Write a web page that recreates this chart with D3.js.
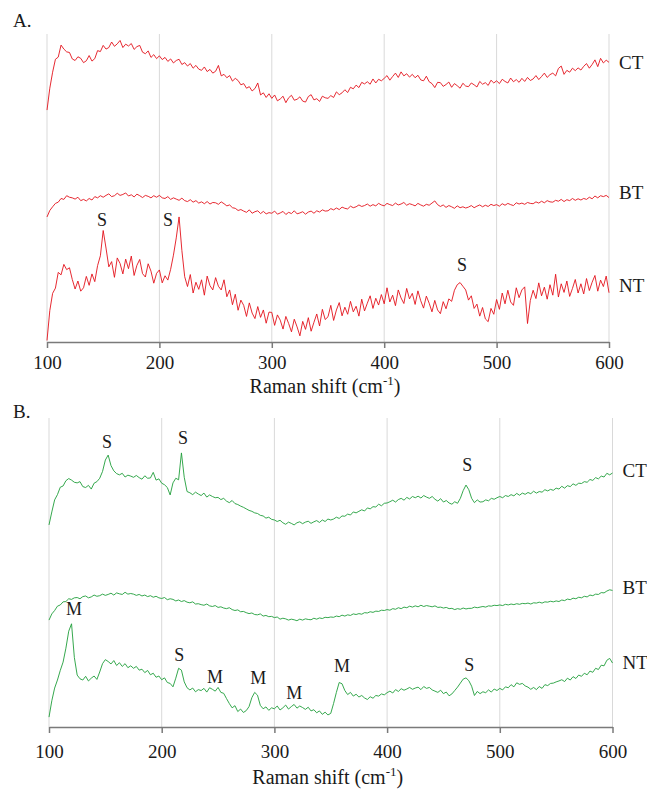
<!DOCTYPE html>
<html><head><meta charset="utf-8">
<script src="https://cdn.jsdelivr.net/npm/d3@7/dist/d3.min.js"></script>
<style>
body{margin:0;background:#fff}
text{font-family:"Liberation Serif","Times New Roman",serif;fill:#1a1a1a}
</style>
</head><body>
<svg id="chart" width="647" height="790"></svg>
<script>
// ---------- DATA ----------
const ramanShift = d3.range(100, 600.001, 2.5); // cm-1 grid, 201 points
const xTicks = [100, 200, 300, 400, 500, 600];
const seriesNames = ["CT", "BT", "NT"];

// Panel A (intensity, arbitrary units)
const aCT = [75.3,82.4,87.6,91.8,92.5,96.4,95.1,94.2,94.0,91.9,
91.4,92.6,92.1,90.7,91.3,93.0,91.2,92.0,94.6,94.3,
96.3,95.1,95.6,97.4,96.0,96.8,97.9,95.6,96.7,96.1,
96.9,95.0,95.9,96.3,94.1,93.6,94.5,92.4,93.3,92.0,
92.9,91.7,92.4,91.1,91.9,90.6,91.4,91.8,90.1,90.7,
89.6,90.4,88.9,89.8,88.6,88.2,89.3,87.8,88.5,87.3,
87.9,89.8,86.4,86.9,85.8,86.5,84.7,85.6,84.9,83.5,
83.9,82.4,82.9,81.5,82.3,84.1,80.2,80.9,79.4,80.6,
79.1,80.2,78.3,78.9,79.8,77.7,79.3,80.1,78.5,78.8,
79.6,78.2,77.9,79.7,80.3,78.6,79.0,78.1,79.8,79.3,
79.1,80.0,79.4,81.2,80.3,80.9,81.9,81.0,82.7,82.2,
83.4,82.6,84.3,83.8,84.5,83.7,85.4,84.1,85.3,84.8,
85.6,86.5,85.0,86.2,87.3,85.9,87.7,86.4,87.1,86.0,
86.9,85.8,86.6,85.1,84.8,86.3,84.5,83.9,82.6,84.3,
84.2,83.0,83.6,84.4,82.7,83.9,83.2,82.4,84.0,83.1,
82.9,84.1,83.5,82.8,84.6,83.7,84.2,83.3,85.0,84.1,
84.8,83.9,85.3,84.6,84.1,85.7,84.5,85.2,84.3,85.6,
84.6,85.9,84.9,85.4,86.5,85.2,86.2,87.3,85.9,86.8,
87.3,86.4,88.8,89.6,86.9,88.2,87.6,88.9,88.1,89.0,
88.3,89.5,90.4,88.9,90.1,91.6,89.4,92.1,90.6,91.5,
90.8];
const aBT = [40.6,42.7,43.9,45.0,45.4,46.6,46.3,47.5,47.0,46.8,
46.4,47.0,45.9,46.3,45.8,46.6,46.1,47.2,46.8,47.5,
47.0,47.6,48.1,47.2,47.5,48.3,47.6,47.9,48.4,47.4,
47.8,47.1,48.0,47.5,46.9,47.6,47.3,46.8,47.5,47.0,
47.6,46.8,46.6,47.2,46.3,46.8,46.4,46.0,46.7,45.9,
45.6,46.2,45.4,45.9,45.1,45.5,44.9,45.6,44.8,45.3,
45.2,44.7,45.5,44.9,44.2,44.5,43.6,43.4,42.7,43.0,
42.5,42.1,42.9,41.8,42.3,42.6,41.7,42.4,41.6,42.0,
41.8,42.5,41.5,41.9,42.4,41.4,42.1,41.7,42.6,41.6,
41.9,42.3,41.5,42.2,42.5,41.8,42.6,42.2,42.9,42.5,
42.6,43.3,42.9,43.5,43.0,43.8,43.4,43.2,44.1,43.6,
43.9,44.5,44.0,44.3,44.8,44.1,44.6,44.2,45.0,44.5,
44.2,45.0,44.6,44.3,45.1,44.5,44.8,45.3,44.4,44.9,
44.6,44.2,45.0,44.5,44.1,44.7,44.4,45.1,45.8,44.6,
44.0,44.5,43.7,44.3,43.9,43.4,44.2,43.6,43.9,43.5,
43.8,44.3,43.6,44.1,44.5,43.9,44.4,44.0,44.7,44.3,
44.6,44.1,44.9,44.4,45.0,44.6,44.3,45.2,44.8,45.1,
44.7,45.3,45.0,44.9,45.5,45.1,45.7,45.2,45.9,45.5,
45.4,46.0,45.7,46.3,45.6,46.2,45.9,46.6,46.0,46.5,
46.1,46.6,46.3,47.0,46.5,47.4,46.8,47.5,47.2,47.6,
46.9];
const aNT = [0.5,10.2,15.8,17.5,22.6,21.8,25.2,23.5,24.1,20.3,
17.2,19.8,16.5,17.6,21.3,18.4,22.1,19.6,24.8,28.0,
36.2,30.5,24.4,26.1,21.0,27.3,25.5,22.1,26.9,23.8,
27.9,21.6,24.9,26.8,22.2,21.1,25.4,23.0,19.1,22.3,
23.4,19.2,21.5,20.1,23.6,28.2,33.8,40.6,29.7,21.2,
18.0,21.9,15.9,19.4,17.1,20.2,15.2,21.4,18.3,16.9,
20.9,18.1,16.9,20.2,14.7,16.9,12.1,15.5,10.3,13.6,
11.9,8.3,12.7,9.4,7.6,11.5,8.0,10.4,6.1,9.7,
9.6,5.4,8.8,7.1,4.2,8.3,6.0,3.3,7.4,4.9,
2.0,6.7,4.1,7.9,3.5,6.4,9.1,5.2,10.6,7.3,
8.2,11.9,7.0,10.4,12.8,8.5,11.3,9.0,13.2,9.8,
11.6,8.4,13.9,10.1,12.6,15.0,10.9,14.2,12.0,15.4,
12.4,17.6,13.0,15.2,11.8,16.9,14.3,12.5,17.4,14.0,
15.8,12.2,16.6,13.4,11.0,14.9,12.6,9.8,13.5,10.4,
9.2,13.1,10.8,14.0,13.2,16.8,18.6,19.3,18.1,16.9,
13.6,15.0,10.9,12.3,8.4,11.2,7.5,6.6,10.9,9.0,
13.8,10.6,15.9,12.4,16.8,13.0,11.9,17.6,14.4,16.9,
17.9,6.0,13.5,16.8,14.1,19.2,15.0,17.8,13.9,18.6,
15.2,22.0,14.6,18.9,16.1,19.8,14.8,17.4,20.3,15.9,
18.9,15.6,20.6,16.7,19.4,21.6,16.5,20.1,18.0,21.4,
16.0];

// Panel B (intensity, arbitrary units)
const bCT = [65.4,69.6,73.5,75.2,77.6,78.0,79.7,80.4,79.9,79.2,
79.0,79.4,77.8,77.5,78.2,77.0,78.9,79.4,80.5,82.7,
86.4,88.0,84.6,82.9,82.0,81.6,82.1,80.9,81.5,81.2,
80.8,81.4,80.7,80.2,81.3,80.5,80.6,82.4,79.9,80.3,
78.9,78.4,77.5,75.1,79.0,80.5,80.0,88.7,80.8,76.2,
75.8,75.2,76.0,75.4,74.9,75.7,74.4,75.1,74.6,74.2,
74.3,73.6,74.0,73.1,72.6,73.3,72.3,72.0,71.5,71.1,
70.6,70.1,69.8,69.3,69.1,68.5,68.3,67.6,67.9,67.2,
67.0,66.5,66.9,66.1,65.6,66.3,65.9,65.4,66.1,66.4,
65.8,66.3,66.6,65.9,66.4,66.8,66.2,67.0,66.5,67.3,
67.0,67.3,67.9,67.5,68.3,68.2,68.9,68.6,69.6,69.3,
69.8,70.3,69.9,70.9,70.6,71.3,71.2,72.1,71.6,72.4,
72.5,72.9,73.4,72.8,73.6,74.0,73.4,74.3,73.8,74.6,
74.2,74.7,74.1,74.9,74.4,74.0,74.6,73.7,73.1,73.9,
72.8,73.3,72.5,72.1,72.9,72.4,74.0,76.5,78.3,76.8,
74.0,72.6,73.5,72.8,72.9,73.5,73.2,74.0,73.7,74.2,
74.6,74.2,74.9,74.6,75.2,74.8,75.6,75.0,75.7,75.3,
75.9,75.5,76.3,75.7,76.2,76.0,76.8,76.4,76.9,76.6,
77.3,77.0,77.9,77.3,78.1,77.8,78.7,78.2,78.9,78.8,
79.4,79.2,80.1,79.8,80.7,80.3,81.2,80.9,82.1,81.6,
82.2];
const bBT = [34.6,36.6,37.7,39.1,39.5,40.5,40.6,41.5,41.3,41.8,
41.9,41.5,42.2,42.4,41.8,42.1,42.7,42.3,42.5,43.0,
42.6,42.9,43.3,42.7,43.4,43.1,42.9,43.6,43.0,43.2,
43.0,42.6,42.9,42.4,42.7,42.2,42.5,42.0,42.3,41.8,
41.6,41.9,41.2,41.5,41.3,40.8,41.1,40.6,40.9,40.4,
40.2,40.5,39.8,39.9,39.6,39.4,39.8,39.2,39.0,39.3,
38.7,38.9,38.5,38.3,38.6,38.0,37.7,37.9,37.3,37.4,
37.0,36.7,36.9,36.4,36.3,36.6,35.9,36.1,35.7,35.8,
35.4,35.6,34.9,35.2,35.0,34.6,34.9,34.7,34.4,34.9,
34.6,35.0,34.8,34.7,35.2,34.9,35.3,35.1,35.5,35.4,
35.6,35.5,35.9,35.7,36.2,35.9,36.3,36.1,36.6,36.4,
36.7,36.5,37.0,36.9,37.3,37.1,37.5,37.4,37.8,37.7,
38.0,37.8,38.3,38.1,38.6,38.3,38.8,38.6,39.1,38.8,
39.2,38.9,39.4,39.0,39.3,39.1,38.9,39.2,38.7,38.8,
38.5,38.7,38.3,38.4,38.0,38.3,38.1,38.5,38.2,38.4,
38.4,38.8,38.6,38.8,39.0,38.8,39.2,39.1,39.4,39.3,
39.5,39.3,39.7,39.5,39.8,39.6,39.9,39.7,40.0,39.9,
40.1,39.8,40.2,40.1,40.4,40.1,40.5,40.4,40.7,40.5,
40.8,40.6,41.1,40.9,41.4,41.2,41.7,41.5,42.0,41.8,
42.3,42.1,42.7,42.5,43.0,42.9,43.5,43.4,44.0,44.4,
44.2];
const bNT = [3.2,8.5,12.6,15.2,18.3,21.0,25.5,31.0,33.4,22.5,
16.8,15.6,15.2,16.4,14.9,15.8,16.5,15.4,17.8,20.5,
21.8,21.2,20.4,21.5,19.9,20.8,19.6,20.5,19.2,19.8,
19.0,19.6,18.4,18.7,17.6,18.3,16.9,17.4,16.1,16.5,
15.3,15.9,14.4,14.1,13.0,15.8,19.0,18.4,14.6,12.7,
12.0,12.6,11.4,12.1,11.8,12.5,11.3,12.7,12.2,11.6,
12.8,11.2,10.9,9.2,7.6,6.2,6.9,5.0,5.8,4.7,
5.3,6.6,9.5,11.2,10.3,7.0,5.9,6.5,5.4,6.2,
5.9,6.8,5.5,6.2,7.1,5.8,6.6,7.3,6.1,6.8,
6.3,5.7,6.4,5.2,5.6,4.6,5.2,4.1,4.8,3.9,
4.4,7.6,11.2,14.4,14.0,11.8,10.5,11.2,10.0,10.6,
9.7,10.2,9.4,8.9,9.8,9.3,10.2,10.0,10.7,10.4,
11.1,11.6,11.0,12.1,11.5,12.4,11.9,12.3,12.8,12.2,
12.6,12.9,12.1,13.1,12.5,12.8,12.0,11.6,11.2,11.9,
10.8,11.3,10.1,10.7,11.8,12.9,14.2,15.5,15.9,15.0,
13.2,10.2,11.5,10.8,11.4,11.1,12.0,11.3,12.3,11.8,
12.5,12.0,13.0,12.7,13.7,13.0,14.3,13.8,14.1,13.3,
12.9,12.2,12.8,12.1,13.1,12.5,13.7,13.4,14.1,14.2,
14.6,14.9,15.3,14.7,15.8,15.2,16.3,15.7,16.8,16.4,
17.4,16.9,18.1,17.7,19.0,18.6,20.0,19.8,21.6,22.2,
20.7];

// label anchors in data units (Raman shift, intensity)
const aSeriesLabelY = [88.6, 46.4, 16.2];
const bSeriesLabelY = [80.9, 43.0, 18.8];
const aPeakLabels = ["S", "S", "S"];
const aPeakX = [149, 207.7, 469.2];
const aPeakY = [37.7, 37.7, 23.1];
const bPeakLabels = ["S", "S", "S", "M", "S", "M", "M", "M", "M", "S"];
const bPeakX = [151.5, 219, 471.2, 122.2, 215.5, 247.4, 285.6, 317.6, 360, 473];
const bPeakY = [90.3, 91.6, 82.8, 36.2, 21.4, 14.2, 13.9, 9.1, 17.8, 18.1];

// ---------- DRAW ----------
const svg = d3.select("#chart");
svg.append("rect").attr("width", 647).attr("height", 790).attr("fill", "#fff");

const panels = [
  {letter: "A.", lx: 13, ly: 27, left: 47, right: 609, top: 34, bottom: 342,
   tickPad: 8, titleY: 393, color: "#e3121b",
   series: [aCT, aBT, aNT], labelY: aSeriesLabelY,
   peaks: aPeakLabels, peakX: aPeakX, peakY: aPeakY},
  {letter: "B.", lx: 13, ly: 418, left: 49, right: 612.5, top: 418, bottom: 727,
   tickPad: 12, titleY: 784, color: "#1f9e3a",
   series: [bCT, bBT, bNT], labelY: bSeriesLabelY,
   peaks: bPeakLabels, peakX: bPeakX, peakY: bPeakY}
];

panels.forEach(p => {
  const x = d3.scaleLinear().domain([100, 600]).range([p.left, p.right]);
  const y = d3.scaleLinear().domain([0, 100]).range([p.bottom, p.top]);
  const g = svg.append("g");

  g.append("text").attr("x", p.lx).attr("y", p.ly)
    .attr("font-size", 19).text(p.letter);

  // gridlines
  g.selectAll("line.grid").data(xTicks).enter().append("line")
    .attr("x1", d => x(d)).attr("x2", d => x(d))
    .attr("y1", p.top).attr("y2", p.bottom)
    .attr("stroke", "#d9d9d9").attr("stroke-width", 1);

  // axis
  const ax = g.append("g").attr("transform", `translate(0,${p.bottom})`)
    .call(d3.axisBottom(x).tickValues(xTicks).tickSize(6).tickSizeOuter(0)
      .tickPadding(p.tickPad).tickFormat(d3.format("d")));
  ax.select(".domain").attr("stroke", "#7a7a7a").attr("stroke-width", 1.5);
  ax.selectAll(".tick line").attr("stroke", "#7a7a7a").attr("stroke-width", 1.5);
  ax.selectAll(".tick text").attr("font-size", 19)
    .attr("font-family", '"Liberation Serif","Times New Roman",serif').attr("fill", "#1a1a1a");

  // axis title
  const t = g.append("text").attr("x", (p.left + p.right) / 2 - 3).attr("y", p.titleY)
    .attr("text-anchor", "middle").attr("font-size", 20);
  t.append("tspan").text("Raman shift (cm");
  t.append("tspan").attr("font-size", 13).attr("dy", -8).text("-1");
  t.append("tspan").attr("dy", 8).text(")");

  // series
  const line = d3.line().x((d, i) => x(ramanShift[i])).y(d => y(d));
  p.series.forEach((s, k) => {
    g.append("path").datum(s).attr("d", line)
      .attr("fill", "none").attr("stroke", p.color)
      .attr("stroke-width", 0.9).attr("stroke-linejoin", "round");
    g.append("text").attr("x", x(600) + 10).attr("y", y(p.labelY[k]))
      .attr("font-size", 19).text(seriesNames[k]);
  });

  // peak annotations
  p.peaks.forEach((lab, k) => {
    g.append("text").attr("x", x(p.peakX[k])).attr("y", y(p.peakY[k]))
      .attr("text-anchor", "middle").attr("font-size", 18).text(lab);
  });
});
</script>
</body></html>
